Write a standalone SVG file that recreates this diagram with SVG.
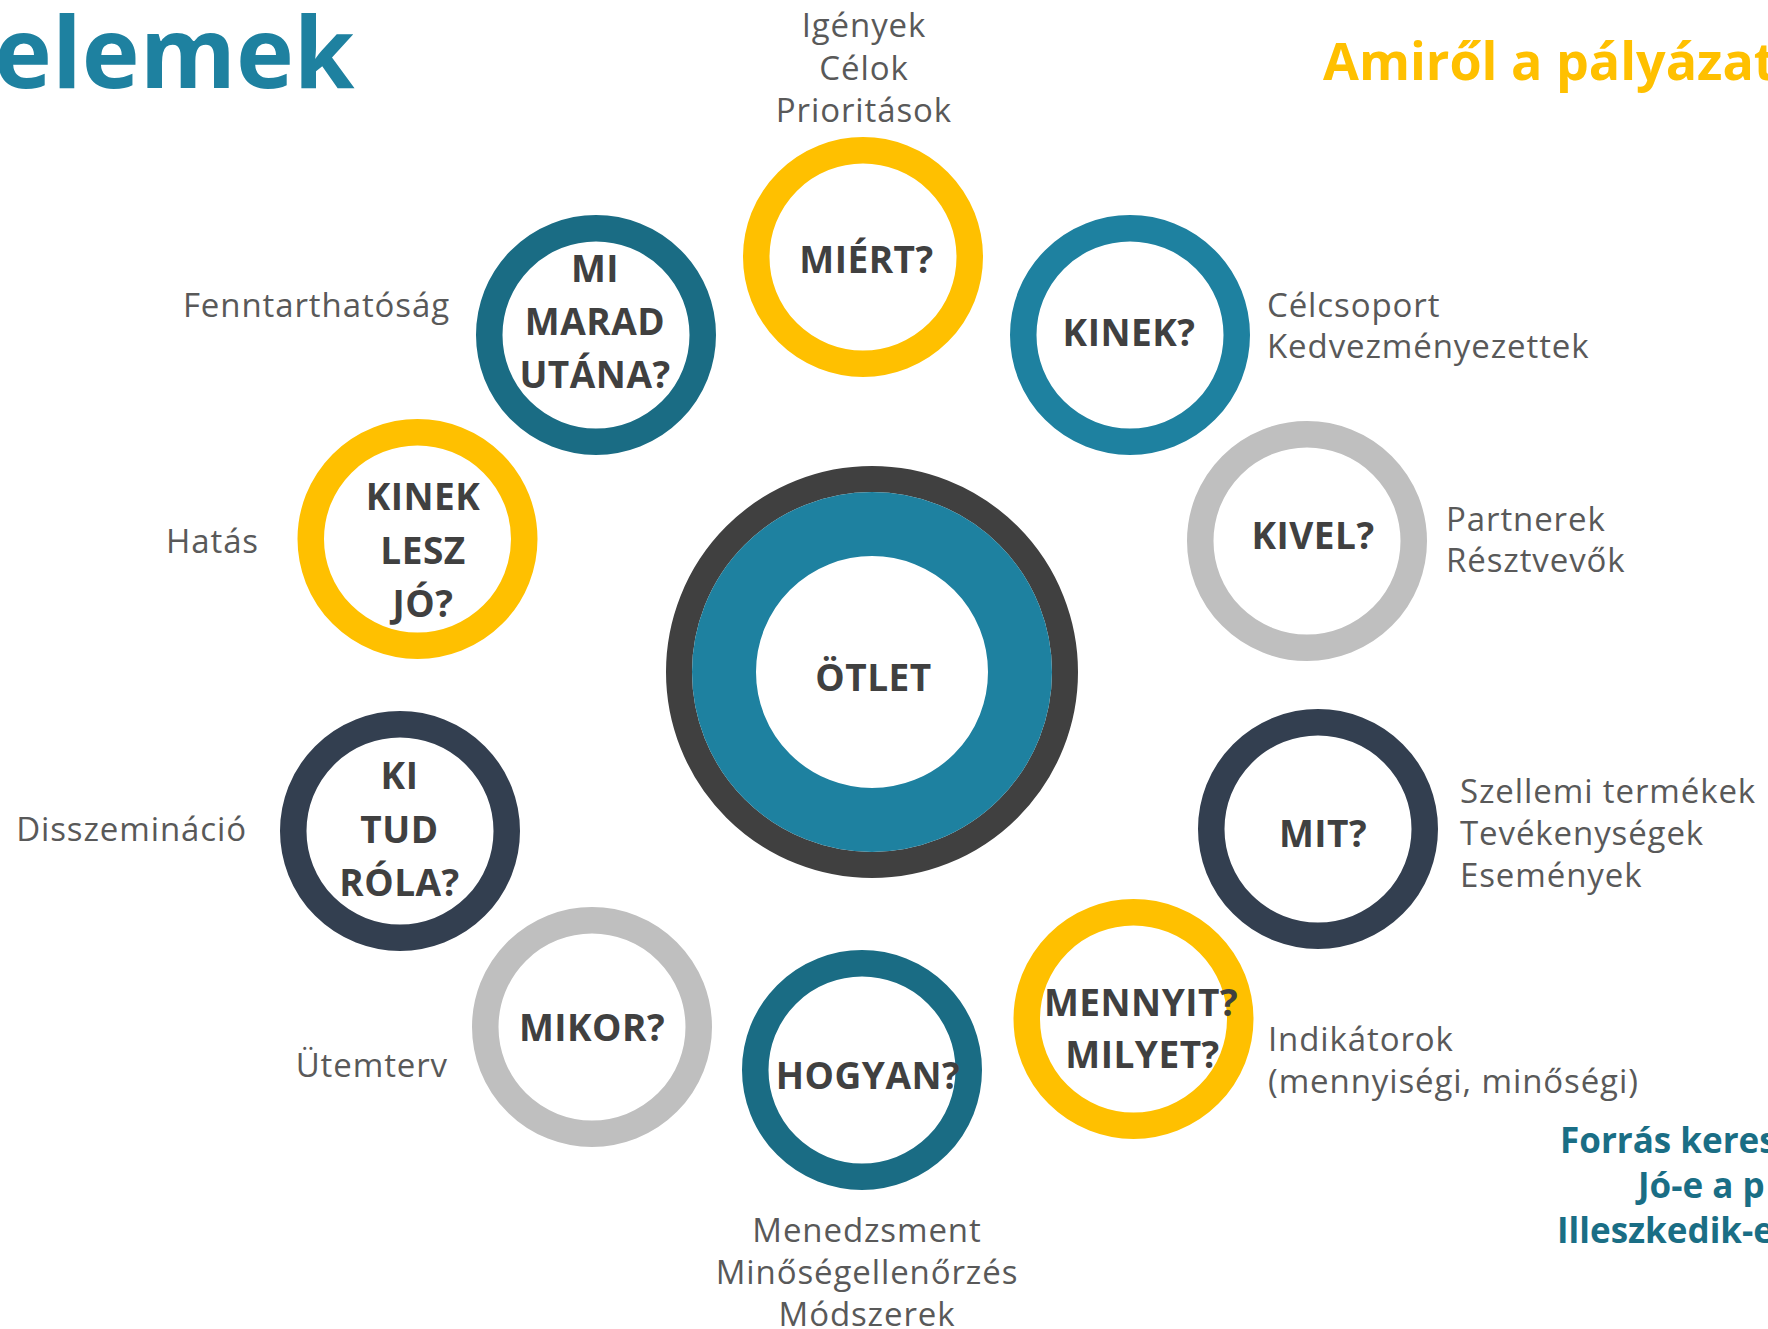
<svg xmlns="http://www.w3.org/2000/svg" width="1768" height="1329" viewBox="0 0 1768 1329">
<style>
.ring{fill:#ffffff;stroke-width:26.5}
.y{stroke:#FFC000}.t{stroke:#1E81A0}.dt{stroke:#1A6C84}.nv{stroke:#333F50}.g{stroke:#BFBFBF}
.q{font-family:"Open Sans","Liberation Sans",sans-serif;font-weight:700;font-size:37px;fill:#404040;text-anchor:middle;letter-spacing:0.5px}
.lb{font-family:"Open Sans","Liberation Sans",sans-serif;font-weight:400;font-size:33px;fill:#595959;letter-spacing:0.9px}
.m{text-anchor:middle}.e{text-anchor:end}
.h{font-family:"Open Sans","Liberation Sans",sans-serif;font-weight:700}
</style>
<rect width="1768" height="1329" fill="#ffffff"/>
<g id="title">
<text class="h" x="-6" y="88" font-size="98" fill="#1E81A0">elemek</text>
<text class="h" x="1323" y="80" font-size="52" fill="#FFC000">Amiről a pályázatl</text>
</g>
<g id="connectors"></g>
<g id="center">
<circle cx="872" cy="672" r="193" fill="none" stroke="#404040" stroke-width="26"/>
<circle cx="872" cy="672" r="148" fill="none" stroke="#1E81A0" stroke-width="64"/>
<text class="q" x="873.5" y="691" font-size="43" letter-spacing="4.5">ÖTLET</text>
</g>
<g id="miert">
<circle class="ring y" cx="863" cy="257" r="106.75"/>
<text class="q" x="866.5" y="273">MIÉRT?</text>
<text class="lb m" x="864" y="37">Igények</text>
<text class="lb m" x="864" y="80">Célok</text>
<text class="lb m" x="864" y="122">Prioritások</text>
</g>
<g id="kinek">
<circle class="ring t" cx="1130" cy="335" r="106.75"/>
<text class="q" x="1129" y="346">KINEK?</text>
<text class="lb" x="1267" y="317">Célcsoport</text>
<text class="lb" x="1267" y="358">Kedvezményezettek</text>
</g>
<g id="kivel">
<circle class="ring g" cx="1307" cy="541" r="106.75"/>
<text class="q" x="1313" y="549">KIVEL?</text>
<text class="lb" x="1446" y="531">Partnerek</text>
<text class="lb" x="1446" y="572">Résztvevők</text>
</g>
<g id="mit">
<circle class="ring nv" cx="1318" cy="829" r="106.75"/>
<text class="q" x="1323" y="847">MIT?</text>
<text class="lb" x="1460" y="803">Szellemi termékek</text>
<text class="lb" x="1460" y="845">Tevékenységek</text>
<text class="lb" x="1460" y="887">Események</text>
</g>
<g id="mennyit">
<circle class="ring y" cx="1133.5" cy="1019" r="106.75"/>
<text class="q" x="1141" y="1016">MENNYIT?</text>
<text class="q" x="1142.5" y="1068">MILYET?</text>
<text class="lb" x="1268" y="1051">Indikátorok</text>
<text class="lb" x="1268" y="1093">(mennyiségi, minőségi)</text>
</g>
<g id="hogyan">
<circle class="ring dt" cx="862" cy="1070" r="106.75"/>
<text class="q" x="868" y="1089">HOGYAN?</text>
<text class="lb m" x="867" y="1242">Menedzsment</text>
<text class="lb m" x="867" y="1284">Minőségellenőrzés</text>
<text class="lb m" x="867" y="1326">Módszerek</text>
</g>
<g id="mikor">
<circle class="ring g" cx="592" cy="1027" r="106.75"/>
<text class="q" x="592" y="1041" letter-spacing="1.5">MIKOR?</text>
<text class="lb e" x="448" y="1077">Ütemterv</text>
</g>
<g id="kitud">
<circle class="ring nv" cx="400" cy="831" r="106.75"/>
<text class="q" x="399.5" y="789">KI</text>
<text class="q" x="399.5" y="843">TUD</text>
<text class="q" x="399.5" y="896">RÓLA?</text>
<text class="lb e" x="247" y="841">Disszemináció</text>
</g>
<g id="kineklesz">
<circle class="ring y" cx="417.5" cy="539" r="106.75"/>
<text class="q" x="423" y="510">KINEK</text>
<text class="q" x="423" y="564">LESZ</text>
<text class="q" x="423" y="617">JÓ?</text>
<text class="lb e" x="259" y="553">Hatás</text>
</g>
<g id="mimarad">
<circle class="ring dt" cx="596" cy="335" r="106.75"/>
<text class="q" x="595" y="282">MI</text>
<text class="q" x="595" y="335">MARAD</text>
<text class="q" x="595" y="388">UTÁNA?</text>
<text class="lb e" x="450" y="317">Fenntarthatóság</text>
</g>
<g id="forras">
<text class="h" x="1560" y="1153" font-size="35" fill="#1A6E85">Forrás keres</text>
<text class="h" x="1638" y="1198" font-size="35" fill="#1A6E85">Jó-e a p</text>
<text class="h" x="1557" y="1243" font-size="35" fill="#1A6E85">Illeszkedik-e</text>
</g>
</svg>
